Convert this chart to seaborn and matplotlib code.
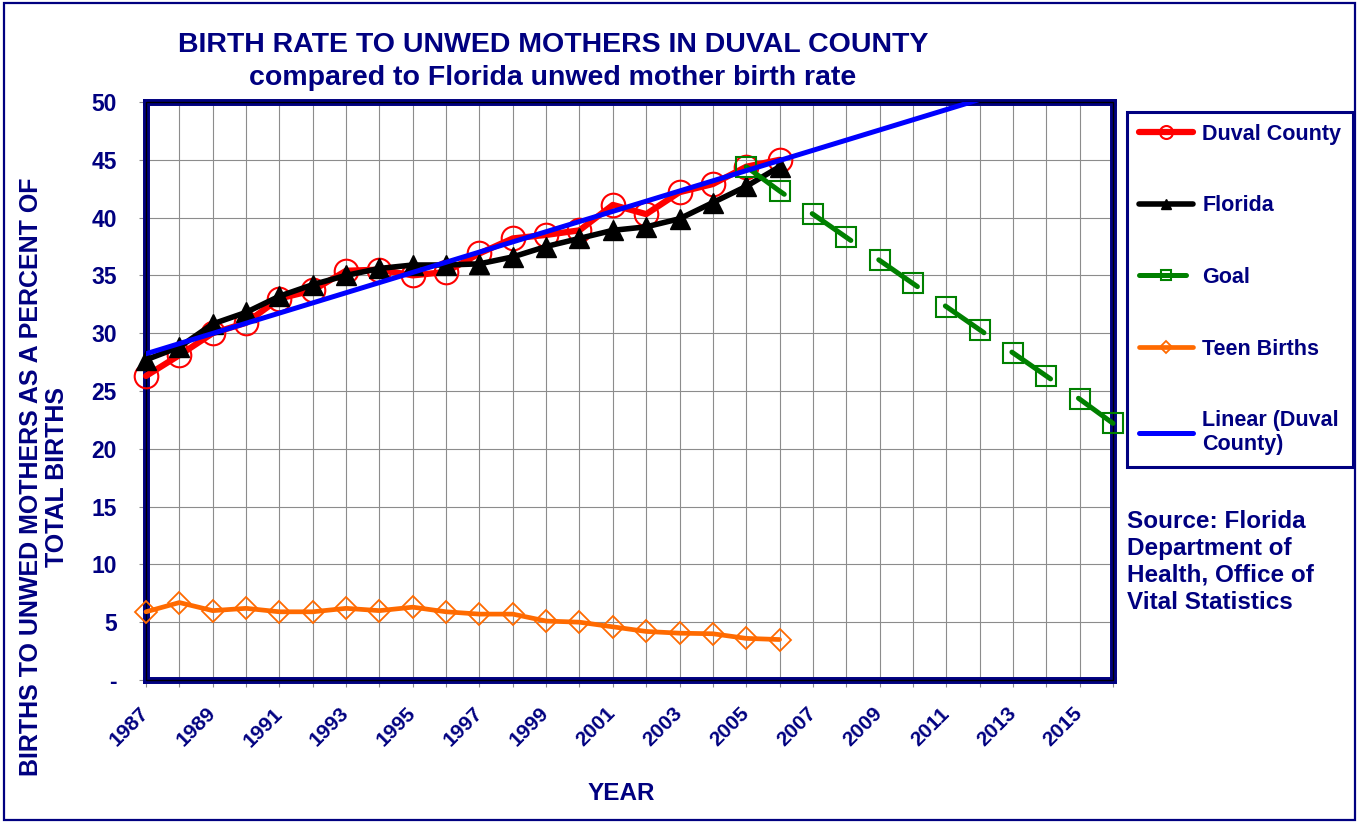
import numpy as np
import pandas as pd
import matplotlib.pyplot as plt
import seaborn as sns
from matplotlib.patches import Rectangle

# Datos (porcentaje de nacimientos de madres solteras)
years = list(range(1987, 2007))
duval = [26.3, 28.1, 30.0, 30.9, 33.0, 33.7, 35.4, 35.5, 35.0, 35.3,
         36.9, 38.2, 38.5, 38.9, 41.1, 40.3, 42.2, 42.9, 44.4, 45.0]
florida = [27.7, 28.8, 30.8, 31.8, 33.2, 34.2, 35.0, 35.6, 35.9, 35.9,
           36.0, 36.6, 37.5, 38.2, 38.9, 39.2, 39.9, 41.3, 42.7, 44.4]
teen = [5.9, 6.7, 6.0, 6.2, 5.9, 5.9, 6.2, 6.0, 6.3, 5.9,
        5.7, 5.7, 5.1, 5.0, 4.6, 4.2, 4.05, 4.0, 3.6, 3.5]
goal_years = list(range(2005, 2017))
goal = [44.4, 42.3, 40.3, 38.3, 36.3, 34.3, 32.3, 30.3, 28.3, 26.3, 24.3, 22.2]
trend_years = list(range(1987, 2017))
year_ticks = list(range(1987, 2016, 2))
y_ticks = list(range(0, 51, 5))
y_labels = ['-'] + [str(v) for v in y_ticks[1:]]

navy = '#000080'

sns.set_style('white')
plt.rcParams['font.family'] = ['Liberation Sans', 'DejaVu Sans']
plt.rcParams['font.weight'] = 'bold'

df = pd.DataFrame({'year': years, 'duval': duval, 'florida': florida, 'teen': teen})
df_goal = pd.DataFrame({'year': goal_years, 'goal': goal})

# Tendencia lineal de Duval County (como en Excel)
slope, intercept = np.polyfit(years, duval, 1)
df_trend = pd.DataFrame({'year': trend_years})
df_trend['linear'] = intercept + slope * df_trend['year']

fig = plt.figure(figsize=(13.59, 8.23), dpi=100)
ax = fig.add_axes([146 / 1359, 1 - 680 / 823, (1113 - 146) / 1359, (680 - 102) / 823])

sns.lineplot(data=df, x='year', y='duval', ax=ax, color='red', linewidth=4.5,
             marker='o', markersize=17, markerfacecolor='none', markeredgecolor='red',
             markeredgewidth=1.5, label='Duval County', clip_on=False, zorder=3)
sns.lineplot(data=df, x='year', y='florida', ax=ax, color='black', linewidth=4.0,
             marker='^', markersize=14, markerfacecolor='black', markeredgecolor='black',
             markeredgewidth=1, label='Florida', clip_on=False, zorder=4)
sns.lineplot(data=df_goal, x='year', y='goal', ax=ax, color='#008000', linewidth=3.6,
             linestyle=(0, (9.4, 6.8)), dash_capstyle='round',
             marker='s', markersize=14, markerfacecolor='none', markeredgecolor='#008000',
             markeredgewidth=1.5, label='Goal', clip_on=False, zorder=5)
sns.lineplot(data=df, x='year', y='teen', ax=ax, color='#FF6A00', linewidth=3.4,
             marker='D', markersize=11, markerfacecolor='none', markeredgecolor='#FF6A00',
             markeredgewidth=1.3, label='Teen Births', clip_on=False, zorder=5)
sns.lineplot(data=df_trend, x='year', y='linear', ax=ax, color='#0000FF', linewidth=3.6,
             label='Linear (Duval\nCounty)', zorder=6)

ax.set_xlim(1987, 2016)
ax.set_ylim(0, 50)
ax.set_xticks(year_ticks)
ax.set_xticks(trend_years, minor=True)
ax.set_yticks(y_ticks)
ax.set_yticklabels(y_labels)
ax.set_xlabel('')
ax.set_ylabel('')
ax.set_axisbelow(True)
ax.grid(axis='x', which='both', color='#8c8c8c', linewidth=0.8)
ax.grid(axis='y', which='major', color='#8c8c8c', linewidth=0.8)

ax.tick_params(axis='x', which='both', bottom=True, direction='out', length=5,
               width=0.8, color='#8c8c8c')
ax.tick_params(axis='x', which='major', labelsize=15, labelcolor=navy, pad=17)
ax.tick_params(axis='y', left=True, direction='out', length=5, width=0.8,
               color='#8c8c8c', labelsize=16.5, labelcolor=navy, pad=16)
for lbl in ax.get_xticklabels():
    lbl.set_rotation(45)
    lbl.set_ha('right')
    lbl.set_va('center')
    lbl.set_rotation_mode('anchor')
    lbl.set_fontweight('bold')
for lbl in ax.get_yticklabels():
    lbl.set_fontweight('bold')

# Marco del area de datos: azul marino con linea negra interior
for s in ax.spines.values():
    s.set_color(navy)
    s.set_linewidth(5)
    s.set_zorder(2.5)
ax.add_patch(Rectangle((0, 0), 1, 1, transform=ax.transAxes, fill=False,
                       edgecolor='black', linewidth=1.0, clip_on=False, zorder=2.6))

# Leyenda fuera del area del grafico
handles, labels = ax.get_legend_handles_labels()
ax.get_legend().remove()
leg = fig.legend(handles, labels, loc='upper left',
                 bbox_to_anchor=(1127 / 1359, 1 - 112 / 823), bbox_transform=fig.transFigure,
                 frameon=True, fancybox=False, edgecolor=navy, framealpha=1,
                 prop={'size': 15.5, 'weight': 'bold'}, labelcolor=navy,
                 handlelength=2.5, handletextpad=0.45, labelspacing=2.35,
                 borderpad=0.55, markerscale=0.55, borderaxespad=0)
leg.get_frame().set_linewidth(2.2)

# Textos
fig.text(553 / 1359, 1 - 45 / 823, 'BIRTH RATE TO UNWED MOTHERS IN DUVAL COUNTY',
         ha='center', va='center', fontsize=20.5, color=navy, fontweight='bold')
fig.text(553 / 1359, 1 - 78 / 823, 'compared to Florida unwed mother birth rate',
         ha='center', va='center', fontsize=20.5, color=navy, fontweight='bold')
fig.text(44 / 1359, 1 - 477 / 823, 'BIRTHS TO UNWED MOTHERS AS A PERCENT OF\nTOTAL BIRTHS',
         rotation=90, ha='center', va='center', multialignment='center',
         fontsize=18, color=navy, fontweight='bold', linespacing=1.1)
fig.text(621 / 1359, 1 - 793 / 823, 'YEAR', ha='center', va='center',
         fontsize=17.5, color=navy, fontweight='bold')
fig.text(1127 / 1359, 1 - 510 / 823,
         'Source: Florida\nDepartment of\nHealth, Office of\nVital Statistics',
         ha='left', va='top', fontsize=17.5, color=navy, fontweight='bold', linespacing=1.22)

# Borde exterior
fig.patches.append(Rectangle((4 / 1359, 3 / 823), 1351 / 1359, 817 / 823,
                             transform=fig.transFigure, fill=False,
                             edgecolor=navy, linewidth=1.6))

fig.savefig('out.png', dpi=100, facecolor='white')
